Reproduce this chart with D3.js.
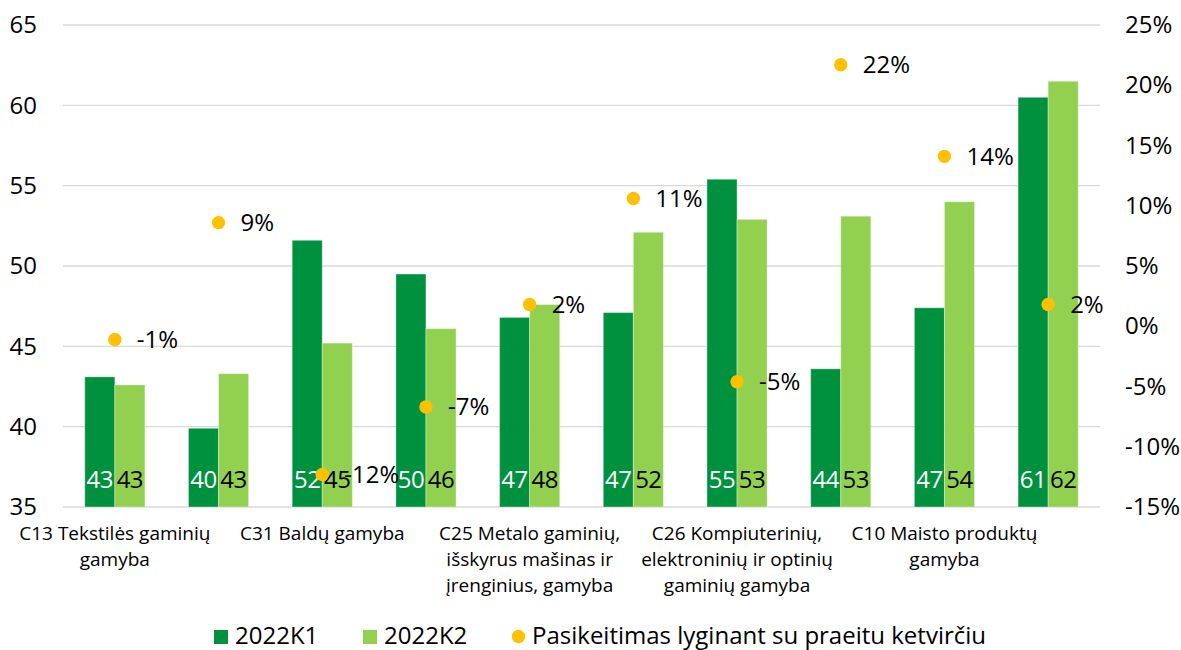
<!DOCTYPE html>
<html>
<head>
<meta charset="utf-8">
<script src="https://cdn.jsdelivr.net/npm/d3@7"></script>
<style>
  html, body { margin: 0; padding: 0; background: #fff; }
  svg { display: block; font-family: "Open Sans", sans-serif; }
</style>
</head>
<body>
<div id="chart"></div>
<script>
// ===== Data =====
const categories = [
  ["C13 Tekstilės gaminių", "gamyba"],
  null,
  ["C31 Baldų gamyba"],
  null,
  ["C25 Metalo gaminių,", "išskyrus mašinas ir", "įrenginius, gamyba"],
  null,
  ["C26 Kompiuterinių,", "elektroninių ir optinių", "gaminių gamyba"],
  null,
  ["C10 Maisto produktų", "gamyba"],
  null
];
const seriesNames = ["2022K1", "2022K2"];
const changeName = "Pasikeitimas lyginant su praeitu ketvirčiu";
const valuesK1 = [43.1, 39.9, 51.6, 49.5, 46.8, 47.1, 55.4, 43.6, 47.4, 60.5];
const valuesK2 = [42.6, 43.3, 45.2, 46.1, 47.6, 52.1, 52.9, 53.1, 54.0, 61.5];
const changePct = [-1.1, 8.6, -12.3, -6.7, 1.8, 10.6, -4.6, 21.7, 14.1, 1.8];
const leftTicks = [35, 40, 45, 50, 55, 60, 65];
const rightTicks = [-15, -10, -5, 0, 5, 10, 15, 20, 25];

const colors = ["#00913f", "#92d050"];
const dotColor = "#ffc000";

const width = 1181, height = 650;
const x0 = 63, x1 = 1100, yTop = 25, yBot = 507;
const fs = 24;

const svg = d3.select("#chart").append("svg")
  .attr("width", width).attr("height", height);

const idx = d3.range(categories.length);
const x = d3.scaleBand().domain(idx).range([x0, x1]).paddingInner(0.42).paddingOuter(0.21);
const xs = d3.scaleBand().domain([0, 1]).range([0, x.bandwidth()]);
const y = d3.scaleLinear().domain([35, 65]).range([yBot, yTop]);
const y2 = d3.scaleLinear().domain([-15, 25]).range([yBot, yTop]);

// gridlines
svg.append("g")
  .selectAll("line")
  .data(leftTicks)
  .join("line")
  .attr("x1", x0).attr("x2", x1)
  .attr("y1", d => y(d)).attr("y2", d => y(d))
  .attr("stroke", "#d9d9d9").attr("stroke-width", 1.3);

// left axis
const leftAxis = svg.append("g")
  .attr("transform", `translate(${x0},0)`)
  .call(d3.axisLeft(y).tickValues(leftTicks).tickSize(0).tickPadding(26));
leftAxis.select(".domain").remove();
leftAxis.selectAll("text").attr("font-size", fs).attr("fill", "#000")
  .attr("font-family", "Open Sans, sans-serif");

// right axis
const rightAxis = svg.append("g")
  .attr("transform", `translate(${x1},0)`)
  .call(d3.axisRight(y2).tickValues(rightTicks).tickSize(0).tickPadding(25)
    .tickFormat(d => d + "%"));
rightAxis.select(".domain").remove();
rightAxis.selectAll("text").attr("font-size", fs).attr("fill", "#000")
  .attr("font-family", "Open Sans, sans-serif");

// bars
const series = [valuesK1, valuesK2];
const groups = svg.append("g")
  .selectAll("g")
  .data(idx)
  .join("g")
  .attr("transform", i => `translate(${x(i)},0)`);

groups.selectAll("rect")
  .data(i => series.map((s, k) => ({ k, v: s[i] })))
  .join("rect")
  .attr("x", d => xs(d.k))
  .attr("width", xs.bandwidth())
  .attr("y", d => y(d.v))
  .attr("height", d => y(35) - y(d.v))
  .attr("fill", d => colors[d.k])
  .attr("stroke", "#ffffff").attr("stroke-opacity", 0.35).attr("stroke-width", 1);

// bar value labels
groups.selectAll("text.val")
  .data(i => series.map((s, k) => ({ k, v: s[i] })))
  .join("text")
  .attr("class", "val")
  .attr("x", d => xs(d.k) + xs.bandwidth() / 2)
  .attr("y", 488)
  .attr("text-anchor", "middle")
  .attr("font-size", fs)
  .attr("letter-spacing", -0.5)
  .attr("fill", d => d.k === 0 ? "#fff" : "#000")
  .text(d => Math.round(d.v));

// change dots
svg.append("g")
  .selectAll("circle")
  .data(idx)
  .join("circle")
  .attr("cx", i => x(i) + x.bandwidth() / 2)
  .attr("cy", i => y2(changePct[i]))
  .attr("r", 6.7)
  .attr("fill", dotColor);

svg.append("g")
  .selectAll("text")
  .data(idx)
  .join("text")
  .attr("x", i => x(i) + x.bandwidth() / 2 + 22)
  .attr("y", i => y2(changePct[i]))
  .attr("dy", "0.35em")
  .attr("font-size", fs)
  .attr("fill", "#000")
  .text(i => Math.round(changePct[i]) + "%");

// category labels
const catG = svg.append("g")
  .selectAll("text")
  .data(idx.filter(i => categories[i]))
  .join("text")
  .attr("text-anchor", "middle")
  .attr("font-size", 19)
  .attr("fill", "#000");
catG.selectAll("tspan")
  .data(i => categories[i].map((line, j) => ({ i, line, j })))
  .join("tspan")
  .attr("x", d => x(d.i) + x.bandwidth() / 2)
  .attr("y", d => 540 + d.j * 26)
  .text(d => d.line);

// legend
const legend = svg.append("g").attr("font-size", fs);
const legendItems = [
  { name: seriesNames[0], type: "rect", color: colors[0], x: 214 },
  { name: seriesNames[1], type: "rect", color: colors[1], x: 363 },
  { name: changeName, type: "dot", color: dotColor, x: 512 }
];
legendItems.forEach(it => {
  if (it.type === "rect") {
    legend.append("rect").attr("x", it.x).attr("y", 630).attr("width", 14).attr("height", 14)
      .attr("fill", it.color);
    legend.append("text").attr("x", it.x + 21).attr("y", 644)
      .attr("fill", "#000").text(it.name);
  } else {
    legend.append("circle").attr("cx", it.x + 6.5).attr("cy", 636.5).attr("r", 6.7).attr("fill", it.color);
    legend.append("text").attr("x", it.x + 20).attr("y", 644)
      .attr("fill", "#000").text(it.name);
  }
});
</script>
</body>
</html>
